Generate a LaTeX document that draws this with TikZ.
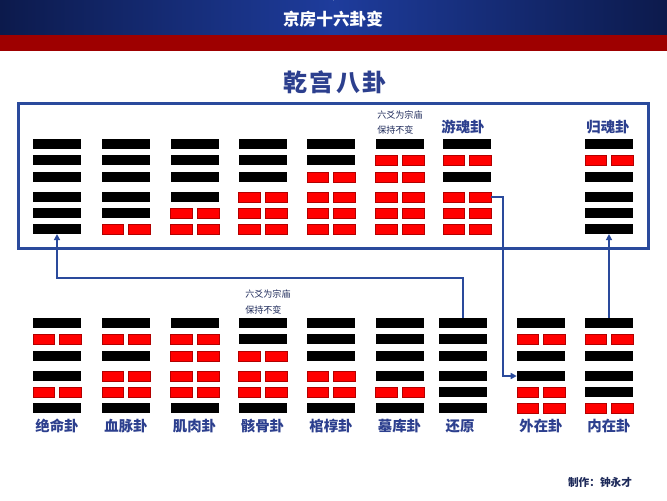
\documentclass[tikz,border=0pt]{standalone}
\usepackage{fontspec}
\newfontfamily\cjk{Noto Sans CJK SC}
\usetikzlibrary{arrows.meta}
\definecolor{navyA}{HTML}{0C1A4C}
\definecolor{navyB}{HTML}{1E3C9C}
\definecolor{bandred}{HTML}{9E0000}
\definecolor{boxblue}{HTML}{2A4A9C}
\definecolor{lblblue}{HTML}{2C3F8E}
\definecolor{yinred}{HTML}{FF0000}
\definecolor{notecol}{HTML}{1E2A5A}
\tikzset{
  yang/.style={rectangle,fill=black,inner sep=0pt,minimum width=36pt,minimum height=7.2pt},
  slot/.style={rectangle,inner sep=0pt,minimum width=36pt,minimum height=7.2pt},
  yin/.style={rectangle,fill=yinred,draw=red!70!black,line width=0.2pt,inner sep=0pt,minimum width=16.2pt,minimum height=7pt},
  lbl/.style={font=\cjk\bfseries\fontsize{10.8pt}{11pt}\selectfont,text=lblblue,inner sep=0pt},
  note/.style={font=\cjk\fontsize{6.8pt}{7pt}\selectfont,text=notecol,inner sep=0pt,anchor=west},
  conn/.style={draw=boxblue,line width=1.5pt},
  tip/.style={-{Triangle[length=4.5pt,width=4.5pt]}}
}
\newcommand{\hexg}[4]{%
  \foreach \v [count=\i] in {#4}{%
    \pgfmathsetmacro{\yy}{#3+{0,16,33,53,69,85}[\i-1]}%
    \pgfmathtruncatemacro{\n}{7-\i}%
    \ifnum\v=1
      \node[yang] (#1-\n) at (#2,\yy) {};
    \else
      \node[slot] (#1-\n) at (#2,\yy) {};
      \node[yin,anchor=west] (#1-\n-l) at (#1-\n.west) {};
      \node[yin,anchor=east] (#1-\n-r) at (#1-\n.east) {};
    \fi
  }}
\begin{document}
\begin{tikzpicture}[x={(0.75pt,0)},y={(0,-0.75pt)}]
\useasboundingbox (0,0) rectangle (667,500);
\fill[white] (0,0) rectangle (667,500);
% header
\shade[left color=navyA,right color=navyB] (0,0) rectangle (333.5,35);
\shade[left color=navyB,right color=navyA] (333.5,0) rectangle (667,35);
\fill[bandred] (0,35) rectangle (667,51);
\node[font=\cjk\bfseries\fontsize{12.5pt}{13pt}\selectfont,text=white] (head) at (333,19) {京房十六卦变};
% title
\node[font=\cjk\bfseries\fontsize{18pt}{19pt}\selectfont,text=lblblue] (title) at (335,82) {乾\hspace{2pt}宫\hspace{2pt}八\hspace{2pt}卦};
% frame
\draw[boxblue,line width=2.25pt] (18,103) rectangle (648,248);
% top row (patterns listed top -> bottom)
\hexg{t1}{57}{144}{1,1,1,1,1,1}
\hexg{t2}{126}{144}{1,1,1,1,1,0}
\hexg{t3}{194.5}{144}{1,1,1,1,0,0}
\hexg{t4}{262.5}{144}{1,1,1,0,0,0}
\hexg{t5}{331}{144}{1,1,0,0,0,0}
\hexg{t6}{399.5}{144}{1,0,0,0,0,0}
\hexg{t7}{467}{144}{1,0,1,0,0,0}
\hexg{t8}{609}{144}{1,0,1,1,1,1}
\node[note] (n1a) at (377,115) {六爻为宗庙};
\node[note] (n1b) at (377,130) {保持不变};
\node[lbl] (l7) at (463,127) {游魂卦};
\node[lbl] (l8) at (608,127) {归魂卦};
% bottom row
\hexg{b1}{57}{323}{1,0,1,1,0,1}
\hexg{b2}{126}{323}{1,0,1,0,0,1}
\hexg{b3}{194.5}{323}{1,0,0,0,0,1}
\hexg{b4}{262.5}{323}{1,1,0,0,0,1}
\hexg{b5}{331}{323}{1,1,1,0,0,1}
\hexg{b6}{399.5}{323}{1,1,1,1,0,1}
\hexg{b7}{462.5}{323}{1,1,1,1,1,1}
\hexg{b8}{541}{323}{1,0,1,1,0,0}
\hexg{b9}{609}{323}{1,0,1,1,1,0}
\node[note] (n2a) at (245,294) {六爻为宗庙};
\node[note] (n2b) at (245,310) {保持不变};
\node[lbl] (m1) at (57,426) {绝命卦};
\node[lbl] (m2) at (126,426) {血脉卦};
\node[lbl] (m3) at (194.5,426) {肌肉卦};
\node[lbl] (m4) at (262.5,426) {骸骨卦};
\node[lbl] (m5) at (331,426) {棺椁卦};
\node[lbl] (m6) at (399.5,426) {墓库卦};
\node[lbl] (m7) at (460,426) {还原};
\node[lbl] (m8) at (541,426) {外在卦};
\node[lbl] (m9) at (609,426) {内在卦};
\node[font=\cjk\bfseries\fontsize{8pt}{9pt}\selectfont,text=notecol,inner sep=0pt] (auth) at (600,482) {制作：钟永才};
% connectors
\coordinate (j1) at (460,278);
\coordinate (j2) at (503,0);
\draw[conn,tip] (b7-6.north) -- (b7-6.north |- j1) -| (t1-1.south);
\draw[conn,tip] (t7-3-r.east) -- (t7-3-r.east -| j2) -- (j2 |- b8-3.west) -- (b8-3.west);
\draw[conn,tip] (b9-6.north) -- (t8-1.south);
\end{tikzpicture}
\end{document}
